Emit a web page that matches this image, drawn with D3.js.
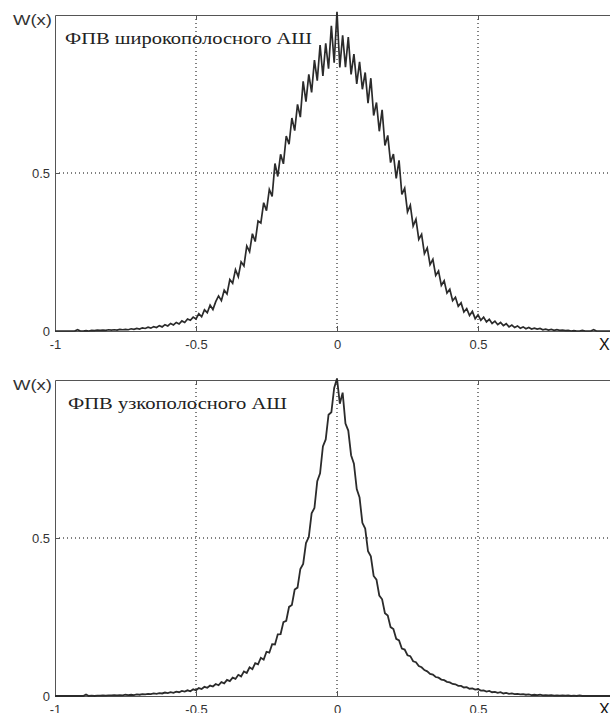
<!DOCTYPE html>
<html>
<head>
<meta charset="utf-8">
<script src="https://cdn.jsdelivr.net/npm/d3@7"></script>
<style>
	body { margin: 0; background: #fff; }
	svg { display: block; }
	.tick text { font-family: "Liberation Sans", Arial, sans-serif; font-size: 13px; fill: #333; }
	.axis path, .axis line { stroke: #555; }
</style>
</head>
<body>
<svg></svg>
<script>
// histogram bins: first bin centre and step along x
var binStart = -1;
var binStep = 0.01;

// W(x) of wideband noise, bins -1.00 .. 1.00
var wideW = [
	0,0,0,0,0,0,0,0,0.004,0,
	0,0.001,0,0.002,0.001,0.003,0.002,0.003,0.002,0.004,
	0.003,0.004,0.003,0.005,0.004,0.005,0.004,0.007,0.005,0.008,
	0.006,0.010,0.008,0.012,0.009,0.014,0.011,0.017,0.013,0.020,
	0.016,0.024,0.019,0.027,0.022,0.032,0.027,0.038,0.034,0.044,
	0.038,0.055,0.045,0.067,0.058,0.082,0.068,0.093,0.111,0.096,
	0.129,0.117,0.163,0.151,0.194,0.172,0.219,0.206,0.269,0.251,
	0.308,0.283,0.348,0.342,0.406,0.381,0.448,0.426,0.530,0.489,
	0.559,0.529,0.617,0.591,0.674,0.634,0.717,0.677,0.790,0.726,
	0.812,0.755,0.857,0.792,0.905,0.807,0.910,0.830,0.966,0.849,
	1.010,0.834,0.936,0.835,0.930,0.812,0.876,0.782,0.852,0.765,
	0.818,0.721,0.800,0.682,0.723,0.632,0.700,0.587,0.619,0.533,
	0.560,0.483,0.540,0.432,0.452,0.377,0.398,0.332,0.354,0.290,
	0.306,0.245,0.263,0.210,0.227,0.176,0.190,0.144,0.159,0.120,
	0.132,0.096,0.107,0.078,0.089,0.060,0.071,0.049,0.062,0.039,
	0.051,0.034,0.044,0.029,0.037,0.024,0.031,0.020,0.027,0.017,
	0.023,0.013,0.019,0.011,0.016,0.009,0.013,0.007,0.011,0.006,
	0.009,0.006,0.008,0.004,0.006,0.003,0.005,0.002,0.004,0.002,
	0.003,0.001,0.002,0,0.001,0,0,0.002,0,0,
	0,0.004,0,0,0,0,0,0,0,0,0
];

// W(x) of narrowband noise, bins -1.00 .. 1.00
var narrowW = [
	0,0,0,0,0,0,0,0,0,0,
	0,0.005,0,0.001,0,0.001,0.001,0.002,0.001,0.002,
	0.002,0.003,0.002,0.003,0.002,0.004,0.003,0.004,0.003,0.005,
	0.004,0.006,0.005,0.007,0.006,0.008,0.007,0.009,0.008,0.011,
	0.009,0.012,0.010,0.014,0.012,0.016,0.014,0.018,0.015,0.021,
	0.018,0.025,0.022,0.029,0.026,0.033,0.030,0.038,0.034,0.044,
	0.040,0.051,0.047,0.058,0.054,0.067,0.062,0.078,0.073,0.091,
	0.085,0.104,0.100,0.121,0.115,0.140,0.137,0.164,0.163,0.195,
	0.196,0.234,0.238,0.282,0.288,0.337,0.343,0.402,0.418,0.484,
	0.503,0.578,0.595,0.680,0.705,0.790,0.812,0.890,0.898,0.975,
	1.005,0.925,0.960,0.862,0.840,0.762,0.735,0.655,0.628,0.548,
	0.530,0.458,0.442,0.380,0.368,0.318,0.306,0.262,0.255,0.218,
	0.212,0.181,0.176,0.150,0.147,0.129,0.126,0.110,0.107,0.095,
	0.091,0.082,0.078,0.070,0.068,0.060,0.058,0.052,0.050,0.045,
	0.043,0.038,0.037,0.032,0.032,0.027,0.028,0.023,0.024,0.020,
	0.022,0.017,0.018,0.014,0.016,0.012,0.013,0.010,0.012,0.008,
	0.010,0.007,0.008,0.006,0.007,0.005,0.006,0.004,0.005,0.003,
	0.004,0.003,0.004,0.002,0.003,0.002,0.003,0.001,0.002,0.001,
	0.002,0.001,0.002,0,0.001,0,0.002,0,0,0,
	0,0,0,0,0,0,0,0,0,0,0
];

// tick labels
var xTicks = [-1, -0.5, 0, 0.5];
var yTicks = [0, 0.5];
var gridX = [-0.5, 0, 0.5];
var gridY = [0.5];

var titles = ["ФПВ широкополосного АШ", "ФПВ узкополосного АШ"];

// setting size
var W = 610, H = 713;
var margin = { left: 55, top: 15 };
var plotW = 564, plotH = 316, panelGap = 365;

var svg = d3.select("svg")
	.attr("width", W)
	.attr("height", H);

var xscale = d3.scaleLinear().domain([-1, 1]).range([0, plotW]);
var yscale = d3.scaleLinear().domain([0, 1]).range([plotH, 0]);

var line = d3.line()
	.x(function(d, i) { return xscale(binStart + i * binStep); })
	.y(function(d) { return yscale(d); });

var panels = [
	{ data: wideW, title: titles[0], titleLen: 247, titleX: 10, sw: 1.7 },
	{ data: narrowW, title: titles[1], titleLen: 219, titleX: 13, sw: 1.8 }
];

panels.forEach(function(p, k) {
	var g = svg.append("g")
		.attr("transform", "translate(" + margin.left + "," + (margin.top + k * panelGap) + ")");

	// dotted grid
	g.selectAll(".gx").data(gridX).enter().append("line")
		.attr("x1", function(d) { return xscale(d); })
		.attr("x2", function(d) { return xscale(d); })
		.attr("y1", 0).attr("y2", plotH)
		.attr("stroke", "#000").attr("stroke-width", 1)
		.attr("stroke-dasharray", "1,3");
	g.selectAll(".gy").data(gridY).enter().append("line")
		.attr("x1", 0).attr("x2", plotW)
		.attr("y1", function(d) { return yscale(d); })
		.attr("y2", function(d) { return yscale(d); })
		.attr("stroke", "#000").attr("stroke-width", 1)
		.attr("stroke-dasharray", "1,3");

	// axises
	g.append("g")
		.attr("class", "axis")
		.attr("transform", "translate(0," + plotH + ")")
		.call(d3.axisBottom(xscale).tickValues(xTicks).tickSizeInner(-5).tickSizeOuter(0).tickPadding(9)
			.tickFormat(function(d) { return d === 0 ? "0" : String(d); }));

	g.append("g")
		.attr("class", "axis")
		.call(d3.axisTop(xscale).tickValues(gridX).tickSizeInner(-5).tickSizeOuter(0).tickFormat(""));

	g.append("g")
		.attr("class", "axis")
		.call(d3.axisLeft(yscale).tickValues(yTicks).tickSizeInner(-5).tickSizeOuter(0).tickPadding(5)
			.tickFormat(function(d) { return String(d); }));

	// the curve
	g.append("path")
		.datum(p.data)
		.attr("fill", "none")
		.attr("stroke", "#2b2b2b")
		.attr("stroke-width", p.sw)
		.attr("stroke-linejoin", "miter")
		.attr("d", line);

	// labels
	g.append("text")
		.attr("x", p.titleX)
		.attr("y", 29)
		.attr("font-family", "'Liberation Serif', 'Times New Roman', serif")
		.attr("font-size", 17)
		.attr("fill", "#222")
		.attr("textLength", p.titleLen)
		.attr("lengthAdjust", "spacingAndGlyphs")
		.text(p.title);

	g.append("text")
		.attr("x", -42)
		.attr("y", 10)
		.attr("font-family", "'Liberation Sans', Arial, sans-serif")
		.attr("font-size", 15)
		.attr("fill", "#333")
		.attr("textLength", 39)
		.attr("lengthAdjust", "spacingAndGlyphs")
		.text("W(x)");

	g.append("text")
		.attr("x", 544)
		.attr("y", plotH + 19)
		.attr("font-family", "'Liberation Sans', Arial, sans-serif")
		.attr("font-size", 16)
		.attr("fill", "#111")
		.text("X");
});
</script>
</body>
</html>
